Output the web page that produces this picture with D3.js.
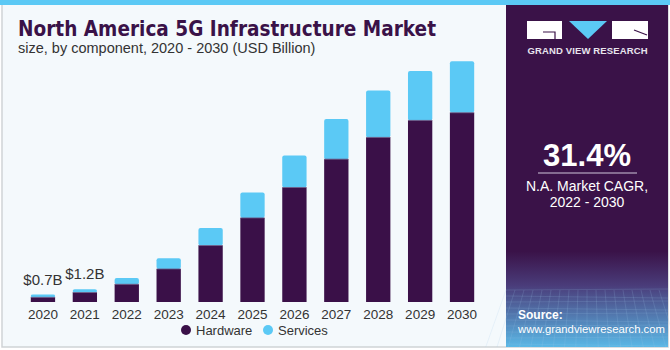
<!DOCTYPE html>
<html>
<head>
<meta charset="utf-8">
<script src="https://cdn.jsdelivr.net/npm/d3@7"></script>
<style>
  html, body { margin: 0; padding: 0; background: #fff; }
  svg { display: block; font-family: "Liberation Sans", Arial, sans-serif; }
</style>
</head>
<body>
<svg id="chart" width="670" height="350"></svg>
<script>
// === Datos ===
const years = [2020, 2021, 2022, 2023, 2024, 2025, 2026, 2027, 2028, 2029, 2030];
const hardware = [0.44, 0.89, 1.67, 3.11, 5.32, 7.92, 10.79, 13.46, 15.51, 17.11, 17.83];
const services = [0.26, 0.31, 0.59, 1.01, 1.66, 2.40, 3.02, 3.78, 4.43, 4.65, 4.85];
const seriesNames = ['Hardware', 'Services'];
const valueLabels = { 2020: '$0.7B', 2021: '$1.2B' };

const colHw = '#3a1048', colSv = '#5bc9f5', purple = '#3a1248';

const svg = d3.select('#chart');

// fondo y marco izquierdo
svg.append('rect').attr('x', 0).attr('y', 0).attr('width', 670).attr('height', 350).attr('fill', '#ffffff');
svg.append('rect').attr('x', 2).attr('y', 4).attr('width', 666).attr('height', 343)
  .attr('fill', '#f4f9fc').attr('stroke', '#cfd3d6').attr('stroke-width', 1.5);
svg.append('rect').attr('x', 0).attr('y', 0).attr('width', 670).attr('height', 5).attr('fill', '#5bc9f5');

// === Panel derecho ===
const defs = svg.append('defs');
const grad = defs.append('linearGradient').attr('id', 'panelGrad').attr('x1', 0).attr('y1', 0).attr('x2', 0).attr('y2', 1);
grad.append('stop').attr('offset', '0%').attr('stop-color', purple);
grad.append('stop').attr('offset', '72%').attr('stop-color', purple);
grad.append('stop').attr('offset', '82%').attr('stop-color', '#4a3c7a');
grad.append('stop').attr('offset', '100%').attr('stop-color', '#5ab8e6');
svg.append('rect').attr('x', 506).attr('y', 5).attr('width', 162).attr('height', 342).attr('fill', 'url(#panelGrad)');

// rejilla tenue en la parte baja
const gridG = svg.append('g').attr('stroke', '#9fc6e8').attr('stroke-opacity', 0.25).attr('stroke-width', 0.7);
d3.range(290, 347, 6).forEach((y, i) => {
  gridG.append('line').attr('x1', 506).attr('x2', 668).attr('y1', y).attr('y2', y + (i % 2 ? 2 : -1));
});
d3.range(506, 668, 9).forEach(x => {
  gridG.append('line').attr('x1', x).attr('x2', x + (x - 587) * 0.25).attr('y1', 290).attr('y2', 347);
});

// logo
const logo = svg.append('g');
logo.append('rect').attr('x', 527).attr('y', 21).attr('width', 35).attr('height', 18).attr('fill', '#ffffff');
logo.append('path').attr('d', 'M543 32 L555 32 L555 39').attr('fill', 'none').attr('stroke', purple).attr('stroke-width', 1.2);
logo.append('path').attr('d', 'M569 21 L607 21 L588 39 Z').attr('fill', '#5bc9f5');
logo.append('rect').attr('x', 612).attr('y', 21).attr('width', 36).attr('height', 18).attr('fill', '#ffffff');
logo.append('path').attr('d', 'M634 30 L647 35').attr('stroke', purple).attr('stroke-width', 1.2);
logo.append('text').attr('x', 587.5).attr('y', 54).attr('text-anchor', 'middle')
  .attr('fill', '#e8e4ee').attr('font-size', 9.5).attr('font-weight', 'bold')
  .attr('textLength', 120).attr('lengthAdjust', 'spacing')
  .text('GRAND VIEW RESEARCH');

svg.append('text').attr('x', 587).attr('y', 166).attr('text-anchor', 'middle')
  .attr('fill', '#fff').attr('font-size', 31).attr('font-weight', 'bold').text('31.4%');
svg.append('line').attr('x1', 538).attr('x2', 637).attr('y1', 173).attr('y2', 173)
  .attr('stroke', '#cfc6da').attr('stroke-width', 1);
svg.append('text').attr('x', 587).attr('y', 191).attr('text-anchor', 'middle')
  .attr('fill', '#fff').attr('font-size', 14).text('N.A. Market CAGR,');
svg.append('text').attr('x', 587).attr('y', 207).attr('text-anchor', 'middle')
  .attr('fill', '#fff').attr('font-size', 14).text('2022 - 2030');
svg.append('text').attr('x', 518).attr('y', 319)
  .attr('fill', '#fff').attr('font-size', 12).attr('font-weight', 'bold').text('Source:');
svg.append('text').attr('x', 518).attr('y', 333)
  .attr('fill', '#fff').attr('font-size', 11.3)
  .text('www.grandviewresearch.com');

// === Titulos ===
svg.append('text').attr('x', 18).attr('y', 36)
  .attr('fill', purple).attr('font-size', 21).attr('font-weight', 900)
  .attr('font-family', '"DejaVu Sans", sans-serif')
  .attr('textLength', 418).attr('lengthAdjust', 'spacingAndGlyphs')
  .text('North America 5G Infrastructure Market');
svg.append('text').attr('x', 18).attr('y', 53)
  .attr('fill', '#333').attr('font-size', 14.5)
  .text('size, by component, 2020 - 2030 (USD Billion)');

// === Escalas ===
const baseY = 302;
const x = d3.scaleBand().domain(years).range([22, 483]).paddingInner(0.42).paddingOuter(0.21);
const y = d3.scaleLinear().domain([0, 22.68]).range([baseY, 61.3]);

const rows = years.map((yr, i) => ({ year: yr, Hardware: hardware[i], Services: services[i] }));
const stacked = d3.stack().keys(seriesNames)(rows);
const colors = d3.scaleOrdinal().domain(seriesNames).range([colHw, colSv]);

// servicios primero (esquinas redondeadas), luego hardware encima
const bars = svg.append('g');
[stacked[1], stacked[0]].forEach(layer => {
  bars.selectAll(null).data(layer).join('rect')
    .attr('x', d => x(d.data.year))
    .attr('width', x.bandwidth())
    .attr('y', d => y(d[1]))
    .attr('height', d => y(d[0]) - y(d[1]))
    .attr('rx', layer.key === 'Services' ? 2 : 0)
    .attr('fill', colors(layer.key));
});
// separador fino
bars.selectAll(null).data(stacked[0]).join('line')
  .attr('x1', d => x(d.data.year)).attr('x2', d => x(d.data.year) + x.bandwidth())
  .attr('y1', d => y(d[1])).attr('y2', d => y(d[1]))
  .attr('stroke', '#6a5a86').attr('stroke-width', 0.8);

// eje x
const axis = svg.append('g').attr('transform', `translate(0,${baseY})`)
  .call(d3.axisBottom(x).tickSize(0).tickPadding(4));
axis.select('.domain').remove();
axis.selectAll('text').attr('font-size', 13.5).attr('fill', '#333').attr('dy', '0.95em')
  .attr('font-family', '"Liberation Sans", Arial, sans-serif');

// etiquetas de valor
Object.entries(valueLabels).forEach(([yr, lab]) => {
  const i = years.indexOf(+yr);
  svg.append('text').attr('x', x(+yr) + x.bandwidth() / 2).attr('y', y(hardware[i] + services[i]) - 10)
    .attr('text-anchor', 'middle').attr('fill', '#333').attr('font-size', 15).text(lab);
});

// leyenda
const legend = svg.append('g').attr('transform', 'translate(0,330)');
const legX = [186, 268];
seriesNames.forEach((n, i) => {
  legend.append('circle').attr('cx', legX[i]).attr('cy', 0).attr('r', 5).attr('fill', colors(n));
  legend.append('text').attr('x', legX[i] + 10).attr('y', 4.5)
    .attr('fill', '#333').attr('font-size', 13).text(n);
});
</script>
</body>
</html>
